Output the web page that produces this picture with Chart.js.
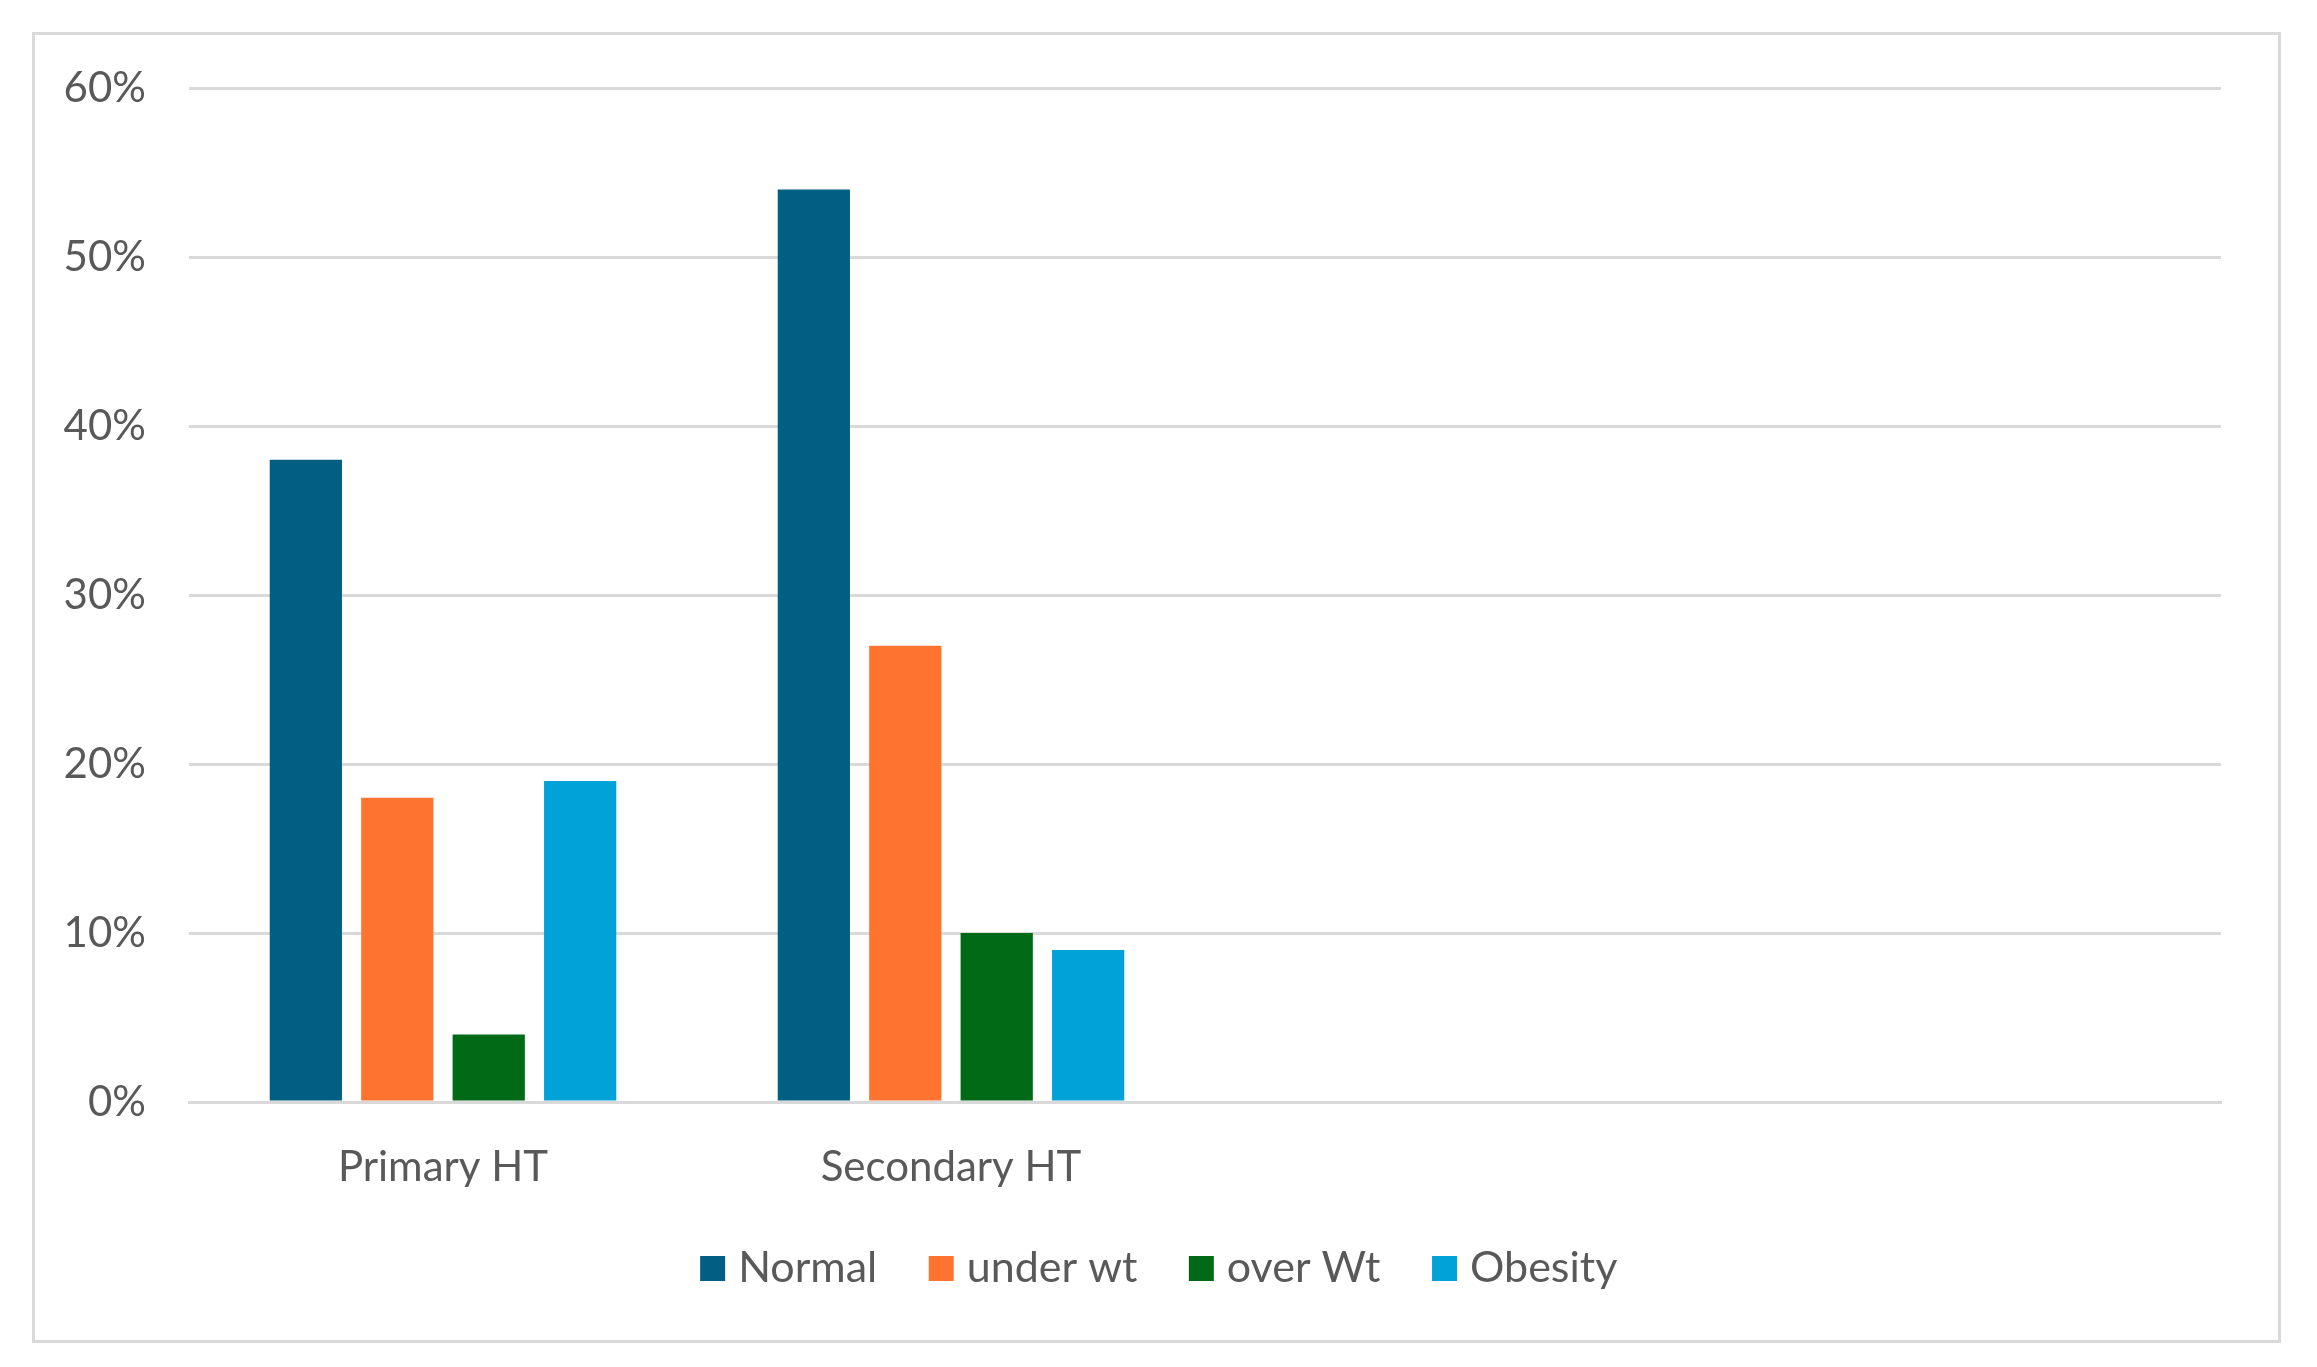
<!DOCTYPE html>
<html>
<head>
<meta charset="utf-8">
<script src="https://cdn.jsdelivr.net/npm/chart.js@4"></script>
<style>
  html, body { margin: 0; padding: 0; background: #ffffff; }
  #wrap { position: absolute; left: 0; top: 0; width: 2317px; height: 1367px; }
</style>
</head>
<body>
<div id="wrap"><canvas id="c" width="2317" height="1367"></canvas></div>
<script>
const categories = ["Primary HT", "Secondary HT", "", ""];
const seriesNames = ["Normal", "under wt", "over Wt", "Obesity"];
const normal  = [38, 54, null, null];
const underWt = [18, 27, null, null];
const overWt  = [4, 10, null, null];
const obesity = [19, 9, null, null];
const yTicks = [0, 10, 20, 30, 40, 50, 60];

const colors = ["#005F83", "#FF7330", "#006A17", "#00A2D8"];
const seriesValues = [normal, underWt, overWt, obesity];

const borderPlugin = {
  id: 'outerBorder',
  beforeDraw(chart) {
    const ctx = chart.ctx;
    ctx.save();
    ctx.fillStyle = '#ffffff';
    ctx.fillRect(0, 0, chart.width, chart.height);
    ctx.strokeStyle = '#D9D9D9';
    ctx.lineWidth = 3;
    ctx.strokeRect(33.5, 33.5, 2246, 1308);
    ctx.restore();
  }
};

const FONT = "Lato, 'Open Sans', sans-serif";
const TXT = '#595959';

new Chart(document.getElementById('c'), {
  type: 'bar',
  data: {
    labels: categories,
    datasets: seriesNames.map((n, i) => ({
      label: n,
      data: seriesValues[i],
      backgroundColor: colors[i],
      borderWidth: 0,
      categoryPercentage: 0.72,
      barPercentage: 0.79
    }))
  },
  options: {
    responsive: false,
    animation: false,
    devicePixelRatio: 1,
    layout: { padding: { left: 9, right: 0, top: 88, bottom: 67 } },
    plugins: {
      tooltip: { enabled: false },
      legend: {
        position: 'bottom',
        labels: {
          usePointStyle: true,
          pointStyle: 'rect',
          boxWidth: 8,
          boxHeight: 25,
          padding: 60,
          color: TXT,
          font: { family: FONT, size: 43 }
        }
      }
    },
    scales: {
      x: {
        grid: { display: false, drawTicks: false },
        border: { display: true, color: '#D9D9D9', width: 3 },
        ticks: { color: TXT, font: { family: FONT, size: 42 }, padding: 40, maxRotation: 0, autoSkip: false },
        afterFit(scale) { scale.height = 85; }
      },
      y: {
        min: 0,
        max: 60,
        afterBuildTicks(scale) { scale.ticks = yTicks.map(v => ({ value: v })); },
        grid: { color: '#D9D9D9', lineWidth: 3, drawTicks: false },
        border: { display: false },
        ticks: {
          color: TXT,
          font: { family: FONT, size: 42 },
          padding: 43,
          callback: v => v + '%'
        },
        afterFit(scale) { scale.width = 180; }
      },
      yRight: {
        position: 'right',
        display: true,
        grid: { display: false, drawTicks: false },
        border: { display: false },
        ticks: { display: false },
        afterFit(scale) { scale.width = 96; }
      }
    }
  },
  plugins: [borderPlugin]
});
</script>
</body>
</html>
